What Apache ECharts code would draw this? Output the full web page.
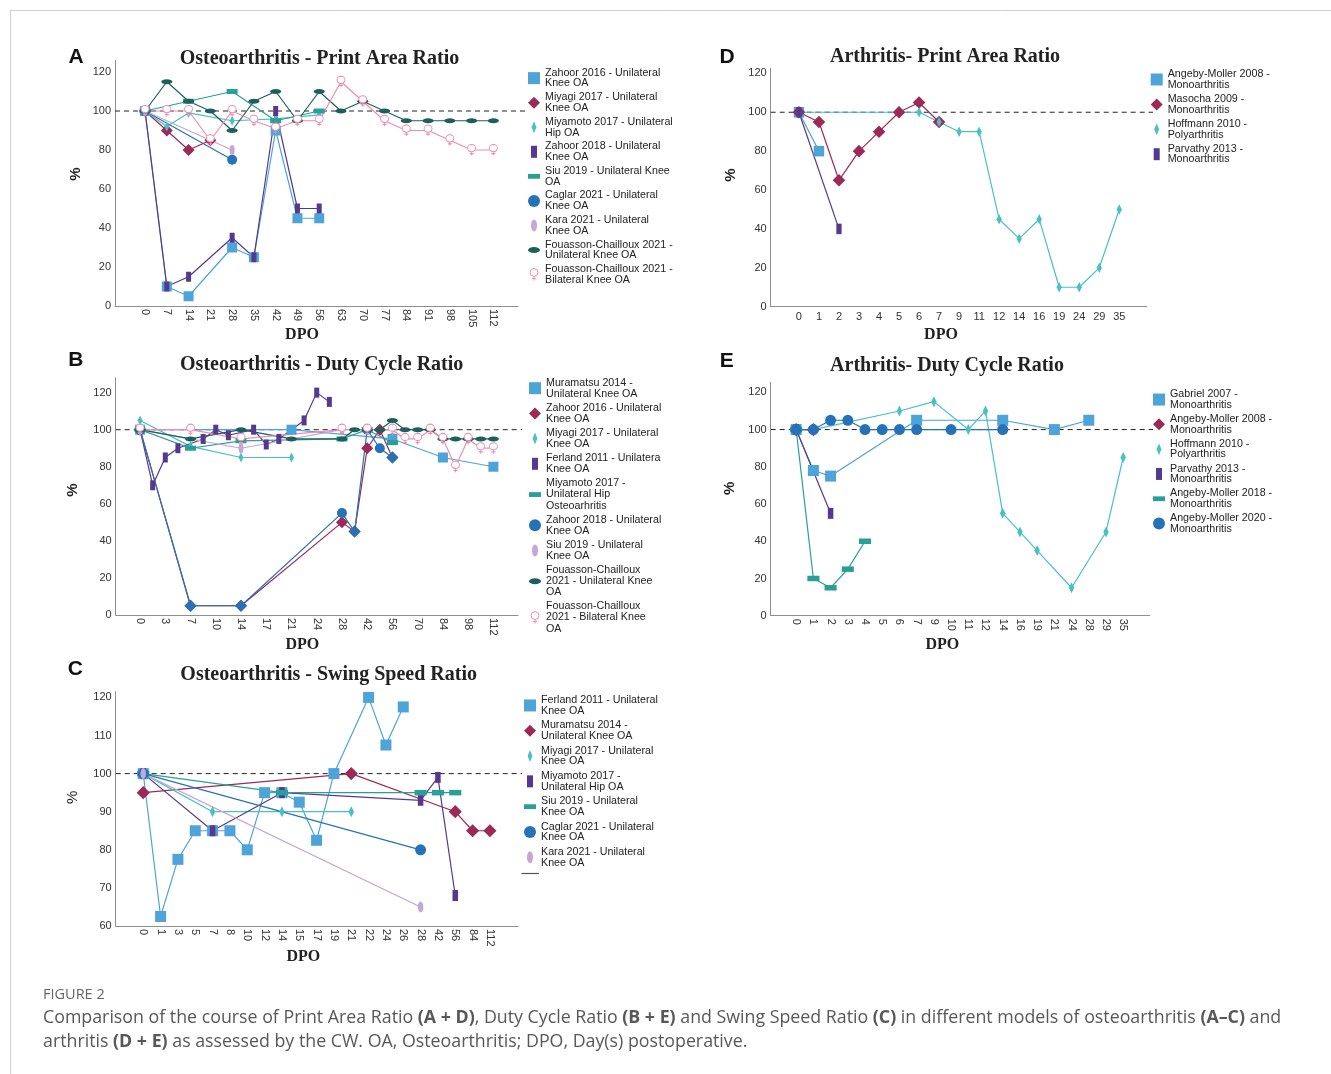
<!DOCTYPE html>
<html><head><meta charset="utf-8">
<script src="https://cdn.jsdelivr.net/npm/echarts@6/dist/echarts.min.js"></script>
<style>html,body{margin:0;padding:0;background:#fff}#c{width:1331px;height:1074px}</style>
</head><body><div id="c"></div>
<script>
// ---------------- DATA ----------------
// Panel A - Osteoarthritis, Print Area Ratio  ([DPO, %])
const A_days = [0,7,14,21,28,35,42,49,56,63,70,77,84,91,98,105,112];
const A_yTicks = [0,20,40,60,80,100,120];
const A_zahoor2016 = [[0,100],[7,10],[14,5],[28,30],[35,25],[42,90],[49,45],[56,45]];
const A_miyagi2017 = [[0,100],[7,90],[14,80],[21,85]];
const A_miyamoto2017 = [[0,100],[7,92],[14,99],[28,95],[42,96],[56,98]];
const A_zahoor2018 = [[0,100],[7,10],[14,15],[28,35],[35,25],[42,100],[49,50],[56,50]];
const A_siu2019 = [[0,100],[14,105],[28,110],[42,95],[56,100]];
const A_caglar2021 = [[0,100],[28,75]];
const A_kara2021 = [[0,100],[28,80]];
const A_fouassonUni = [[0,100],[7,115],[14,105],[21,100],[28,90],[35,105],[42,110],[49,95],[56,110],[63,100],[70,105],[77,100],[84,95],[91,95],[98,95],[105,95],[112,95]];
const A_fouassonBi = [[0,100],[7,100],[14,100],[21,85],[28,100],[35,95],[42,91],[49,95],[56,95],[63,115],[70,105],[77,95],[84,90],[91,90],[98,85],[105,80],[112,80]];

// Panel B - Osteoarthritis, Duty Cycle Ratio
const B_days = [0,1,3,5,7,8,10,12,14,15,17,19,21,22,24,26,28,35,42,49,56,63,70,77,84,91,98,105,112];
const B_yTicks = [0,20,40,60,80,100,120];
const B_muramatsu2014 = [[0,100],[21,100],[56,95],[84,85],[112,80]];
const B_zahoor2016 = [[0,100],[7,5],[14,5],[28,50],[35,45],[42,90],[49,100],[56,85]];
const B_miyagi2017 = [[0,105],[7,91],[14,85],[21,85]];
const B_ferland2011 = [[0,100],[1,70],[3,85],[5,90],[8,95],[10,100],[12,97],[15,100],[17,92],[19,95],[22,105],[24,120],[26,115]];
const B_miyamoto2017 = [[0,100],[7,90],[14,94],[28,95],[42,100],[56,93]];
const B_zahoor2018 = [[0,100],[7,5],[14,5],[28,55],[35,45],[42,100],[49,90],[56,85]];
const B_siu2019 = [[0,100],[14,90],[28,100]];
const B_fouassonUni = [[0,100],[7,95],[14,100],[21,95],[28,95],[35,100],[42,100],[49,100],[56,105],[63,100],[70,100],[77,100],[84,95],[91,95],[98,95],[105,95],[112,95]];
const B_fouassonBi = [[0,100],[7,100],[14,95],[28,100],[42,100],[56,100],[63,95],[70,95],[77,100],[84,95],[91,80],[98,95],[105,90],[112,90]];

// Panel C - Osteoarthritis, Swing Speed Ratio
const C_days = [0,1,3,5,7,8,10,12,14,15,17,19,21,22,24,26,28,42,56,84,112];
const C_yTicks = [60,70,80,90,100,110,120];
const C_ferland2011 = [[0,100],[1,62.5],[3,77.5],[5,85],[7,85],[8,85],[10,80],[12,95],[14,95],[15,92.5],[17,82.5],[19,100],[22,120],[24,107.5],[26,117.5]];
const C_muramatsu2014 = [[0,95],[21,100],[56,90],[84,85],[112,85]];
const C_miyagi2017 = [[0,100],[7,90],[14,90],[21,90]];
const C_miyamoto2017 = [[0,100],[7,85],[14,95],[28,93],[42,99],[56,68]];
const C_siu2019 = [[0,100],[14,95],[28,95],[42,95],[56,95]];
const C_caglar2021 = [[0,100],[28,80]];
const C_kara2021 = [[0,100],[28,65]];

// Panel D - Arthritis, Print Area Ratio
const D_days = [0,1,2,3,4,5,6,7,9,11,12,14,16,19,24,29,35];
const D_yTicks = [0,20,40,60,80,100,120];
const D_angeby2008 = [[0,100],[1,80]];
const D_masocha2009 = [[0,100],[1,95],[2,65],[3,80],[4,90],[5,100],[6,105],[7,95]];
const D_hoffmann2010 = [[0,100],[6,100],[7,95],[9,90],[11,90],[12,45],[14,35],[16,45],[19,10],[24,10],[29,20],[35,50]];
const D_parvathy2013 = [[0,100],[2,40]];

// Panel E - Arthritis, Duty Cycle Ratio
const E_days = [0,1,2,3,4,5,6,7,9,10,11,12,14,16,19,21,24,28,29,35];
const E_yTicks = [0,20,40,60,80,100,120];
const E_gabriel2007 = [[0,100],[1,78],[2,75],[7,105],[14,105],[21,100],[28,105]];
const E_angeby2008 = [[0,100],[1,100]];
const E_hoffmann2010 = [[0,100],[1,100],[6,110],[9,115],[11,100],[12,110],[14,55],[16,45],[19,35],[24,15],[29,45],[35,85]];
const E_parvathy2013 = [[0,100],[2,55]];
const E_angeby2018 = [[0,100],[1,20],[2,15],[3,25],[4,40]];
const E_angeby2020 = [[0,100],[1,100],[2,105],[3,105],[4,100],[5,100],[6,100],[7,100],[10,100],[14,100]];

// ---------------- STYLES ----------------
const SANS = '"Liberation Sans", Arial, sans-serif';
const SERIF = '"Liberation Serif", "Times New Roman", serif';
const FEMALE = 'path://M0.6,5A4.4,4.4 0 1,1 9.4,5A4.4,4.4 0 1,1 0.6,5ZM5,9.4L5,14M2.8,11.8L7.2,11.8';
const ELLV = 'path://M3,0A3,6 0 1,1 3,12A3,6 0 1,1 3,0Z';
const ELLH = 'path://M0,3A6,3 0 1,1 12,3A6,3 0 1,1 0,3Z';
const STY = {
  sq:   {color:'#4ea3d9', symbol:'rect', size:[10,10], icon:'path://M0,0H10V10H0Z'},
  dia:  {color:'#9d2a56', symbol:'diamond', size:[12,12], icon:'path://M7,0L14,7L7,14L0,7Z'},
  thin: {color:'#47c1c3', symbol:'diamond', size:[5,10], icon:'path://M2,0L4,5L2,10L0,5Z'},
  tall: {color:'#553890', symbol:'rect', size:[5,10], icon:'path://M0,0H5V10H0Z'},
  flat: {color:'#28a097', symbol:'rect', size:[11,5], icon:'path://M0,0H10V4H0Z'},
  circ: {color:'#2672b9', symbol:'circle', size:[10,10], icon:'circle'},
  ellv: {color:'#c5a6d7', symbol:'circle', size:[5,10], icon:ELLV},
  ellh: {color:'#1c5f5b', symbol:'circle', size:[11,5], icon:ELLH},
  fem:  {color:'#f08bb1', symbol:FEMALE, size:[8,11], icon:FEMALE, hollow:true}
};

const PANELS = [
 {letter:'A', title:'Osteoarthritis - Print Area Ratio', titlePos:[319.5,58.5], letterPos:[76,57.5], pctPos:[76,174], pctBold:true, dpoPos:[302,335],
  days:A_days, yTicks:A_yTicks, labelStep:1, rotate:-90, box:[115,60.3,403,245.7], xr:[-1.38,17.13], yr:[0,126], dashEnd:527, scale:1,
  legend:{left:528, top:67.3, lh:10.7, gap:2.85},
  series:[
   ['Zahoor 2016 - Unilateral\nKnee OA', A_zahoor2016, 'sq'],
   ['Miyagi 2017 - Unilateral\nKnee OA', A_miyagi2017, 'dia'],
   ['Miyamoto 2017 - Unilateral\nHip OA', A_miyamoto2017, 'thin'],
   ['Zahoor 2018 - Unilateral\nKnee OA', A_zahoor2018, 'tall'],
   ['Siu 2019 - Unilateral Knee\nOA', A_siu2019, 'flat'],
   ['Caglar 2021 - Unilateral\nKnee OA', A_caglar2021, 'circ'],
   ['Kara 2021 - Unilateral\nKnee OA', A_kara2021, 'ellv'],
   ['Fouasson-Chailloux 2021 -\nUnilateral Knee OA', A_fouassonUni, 'ellh'],
   ['Fouasson-Chailloux 2021 -\nBilateral Knee OA', A_fouassonBi, 'fem']
  ]},
 {letter:'B', title:'Osteoarthritis - Duty Cycle Ratio', titlePos:[321.7,365], letterPos:[75.8,360.5], pctPos:[72.7,490], pctBold:true, dpoPos:[302.3,645],
  days:B_days, yTicks:B_yTicks, labelStep:2, rotate:-90, box:[115.7,377.8,402.3,237.2], xr:[-1.93,29.95], yr:[0,128], dashEnd:522, scale:1,
  legend:{left:529, top:377.1, lh:11.1, gap:3},
  series:[
   ['Muramatsu 2014 -\nUnilateral Knee OA', B_muramatsu2014, 'sq'],
   ['Zahoor 2016 - Unilateral\nKnee OA', B_zahoor2016, 'dia'],
   ['Miyagi 2017 - Unilateral\nKnee OA', B_miyagi2017, 'thin'],
   ['Ferland 2011 - Unilatera\nKnee OA', B_ferland2011, 'tall'],
   ['Miyamoto 2017 -\nUnilateral Hip\nOsteoarhritis', B_miyamoto2017, 'flat'],
   ['Zahoor 2018 - Unilateral\nKnee OA', B_zahoor2018, 'circ', B_zahoor2016],
   ['Siu 2019 - Unilateral\nKnee OA', B_siu2019, 'ellv'],
   ['Fouasson-Chailloux\n2021 - Unilateral Knee\nOA', B_fouassonUni, 'ellh'],
   ['Fouasson-Chailloux\n2021 - Bilateral Knee\nOA', B_fouassonBi, 'fem']
  ]},
 {letter:'C', title:'Osteoarthritis - Swing Speed Ratio', titlePos:[328.7,674.5], letterPos:[75.3,669.3], pctPos:[72.7,797.3], pctBold:false, dpoPos:[303.3,956.7],
  days:C_days, yTicks:C_yTicks, labelStep:1, rotate:-90, box:[115.7,691.7,402.3,234.3], xr:[-1.59,21.62], yr:[60,121.5], dashEnd:522, scale:1.1,
  legend:{left:524, top:694.6, lh:10.7, gap:3.6},
  series:[
   ['Ferland 2011 - Unilateral\nKnee OA', C_ferland2011, 'sq'],
   ['Muramatsu 2014 -\nUnilateral Knee OA', C_muramatsu2014, 'dia'],
   ['Miyagi 2017 - Unilateral\nKnee OA', C_miyagi2017, 'thin'],
   ['Miyamoto 2017 -\nUnilateral Hip OA', C_miyamoto2017, 'tall'],
   ['Siu 2019 - Unilateral\nKnee OA', C_siu2019, 'flat'],
   ['Caglar 2021 - Unilateral\nKnee OA', C_caglar2021, 'circ'],
   ['Kara 2021 - Unilateral\nKnee OA', C_kara2021, 'ellv']
  ]},
 {letter:'D', title:'Arthritis- Print Area Ratio', titlePos:[945,56.7], letterPos:[727,57.5], pctPos:[730.7,175], pctBold:true, dpoPos:[941,335],
  days:D_days, yTicks:D_yTicks, labelStep:1, rotate:0, box:[770.7,68.3,376,238.4], xr:[-1.41,17.37], yr:[0,122.6], dashEnd:1153, scale:1.05,
  legend:{left:1150.7, top:68.7, lh:10.6, gap:3.3},
  series:[
   ['Angeby-Moller 2008 -\nMonoarthritis', D_angeby2008, 'sq'],
   ['Masocha 2009 -\nMonoarthritis', D_masocha2009, 'dia'],
   ['Hoffmann 2010 -\nPolyarthritis', D_hoffmann2010, 'thin'],
   ['Parvathy 2013 -\nMonoarthritis', D_parvathy2013, 'tall']
  ]},
 {letter:'E', title:'Arthritis- Duty Cycle Ratio', titlePos:[947,365.5], letterPos:[726.7,361.7], pctPos:[730,488.3], pctBold:true, dpoPos:[942.3,645],
  days:E_days, yTicks:E_yTicks, labelStep:1, rotate:-90, box:[770.7,382.3,379,233.4], xr:[-1.48,20.54], yr:[0,125.4], dashEnd:1153, scale:1.1,
  legend:{left:1153, top:388.8, lh:10.5, gap:3.3},
  series:[
   ['Gabriel 2007 -\nMonoarthritis', E_gabriel2007, 'sq'],
   ['Angeby-Moller 2008 -\nMonoarthritis', E_angeby2008, 'dia'],
   ['Hoffmann 2010 -\nPolyarthritis', E_hoffmann2010, 'thin'],
   ['Parvathy 2013 -\nMonoarthritis', E_parvathy2013, 'tall'],
   ['Angeby-Moller 2018 -\nMonoarthritis', E_angeby2018, 'flat'],
   ['Angeby-Moller 2020 -\nMonoarthritis', E_angeby2020, 'circ']
  ]}
];

// ---------------- BUILD ----------------
const chart = echarts.init(document.getElementById('c'), null, {renderer:'canvas', width:1331, height:1074});
const grid=[], xAxis=[], yAxis=[], series=[], legend=[];
const AXIS_COLOR = '#8e8e8e';

PANELS.forEach((p,i)=>{
  grid.push({left:p.box[0], top:p.box[1], width:p.box[2], height:p.box[3], containLabel:false, outerBoundsMode:'none'});
  const idx = p.days.map((d,k)=>k).filter(k=>k % p.labelStep === 0);
  xAxis.push({type:'value', gridIndex:i, min:p.xr[0], max:p.xr[1],
    axisLine:{show:true, onZero:false, lineStyle:{color:AXIS_COLOR, width:1}},
    axisTick:{show:false}, splitLine:{show:false},
    axisLabel:{customValues:idx, formatter:(v)=>String(p.days[Math.round(v)]), rotate:p.rotate,
      margin:p.rotate ? 3 : 5, fontSize:11, color:'#333', fontFamily:SANS}});
  yAxis.push({type:'value', gridIndex:i, min:p.yr[0], max:p.yr[1],
    axisLine:{show:true, onZero:false, lineStyle:{color:AXIS_COLOR, width:1}},
    axisTick:{show:false}, splitLine:{show:false},
    axisLabel:{customValues:p.yTicks, margin:4, fontSize:11, color:'#333', fontFamily:SANS}});
  const legendData = [];
  p.series.forEach(([name, data, sk, overlap])=>{
    const st = STY[sk];
    const sz = [st.size[0]*p.scale, st.size[1]*p.scale];
    const pts = data.map(([d,v])=>[p.days.indexOf(d), v]);
    let symbol = st.symbol, symbolSize = sz;
    if (overlap) {
      const ov = overlap.map(([d,v])=>[p.days.indexOf(d), v]);
      const hit = (val)=> val[0] !== 0 && ov.some(o=>o[0]===val[0] && o[1]===val[1]);
      const dz = STY.dia.size[0]*p.scale;
      symbol = (val)=> hit(val) ? 'diamond' : st.symbol;
      symbolSize = (val)=> hit(val) ? [dz,dz] : sz;
    }
    series.push({type:'line', name, xAxisIndex:i, yAxisIndex:i, data:pts,
      symbol, symbolSize, showAllSymbol:true,
      lineStyle:{color:st.color, width:1.2},
      itemStyle: st.hollow ? {color:'#fff', borderColor:st.color, borderWidth:1} : {color:st.color, borderWidth:0},
      emphasis:{disabled:true}, silent:true, animation:false});
    legendData.push({name, icon:st.icon,
      itemStyle: st.hollow ? {color:'#fff', borderColor:st.color, borderWidth:1, opacity:1} : {color:st.color, borderColor:st.color, borderWidth:0, opacity:1}});
  });
  legend.push({orient:'vertical', left:p.legend.left, top:p.legend.top, padding:0,
    itemWidth:12, itemHeight:12, itemGap:p.legend.gap, selectedMode:false,
    textStyle:{fontSize:10.7, lineHeight:p.legend.lh, color:'#222', fontFamily:SANS},
    data:legendData});
});

chart.setOption({animation:false, backgroundColor:'#fff', grid, xAxis, yAxis, series, legend});

// ---------------- GRAPHICS (texts, reference lines, frame) ----------------
const g = [];
g.push({type:'line', shape:{x1:10, y1:10.5, x2:1331, y2:10.5}, style:{stroke:'#cfcfcf', lineWidth:1}});
g.push({type:'line', shape:{x1:10.5, y1:10, x2:10.5, y2:1074}, style:{stroke:'#cfcfcf', lineWidth:1}});
PANELS.forEach((p,i)=>{
  const y100 = chart.convertToPixel({gridIndex:i}, [0,100])[1];
  g.push({type:'line', shape:{x1:p.box[0], y1:y100, x2:p.dashEnd, y2:y100},
    style:{stroke:'#222', lineWidth:1, lineDash:[5,4]}, z:1});
  g.push({type:'text', x:p.titlePos[0], y:p.titlePos[1], style:{text:p.title, font:'bold 20px '+SERIF, fill:'#222', align:'center', verticalAlign:'middle'}});
  g.push({type:'text', x:p.letterPos[0], y:p.letterPos[1], style:{text:p.letter, font:'bold 21px '+SANS, fill:'#111', align:'center', verticalAlign:'middle'}});
  g.push({type:'text', x:p.pctPos[0], y:p.pctPos[1], rotation:Math.PI/2, style:{text:'%', font:(p.pctBold?'bold ':'')+'15px '+SANS, fill:'#222', align:'center', verticalAlign:'middle'}});
  g.push({type:'text', x:p.dpoPos[0], y:p.dpoPos[1], style:{text:'DPO', font:'bold 16px '+SERIF, fill:'#222', align:'center', verticalAlign:'middle'}});
});
g.push({type:'line', shape:{x1:521.5, y1:873.5, x2:539, y2:873.5}, style:{stroke:'#555', lineWidth:1.2}});
const CAP = '17.8px "Open Sans", "Liberation Sans", sans-serif';
const CAPB = 'bold 17.8px "Open Sans", "Liberation Sans", sans-serif';
g.push({type:'text', x:43, y:995, style:{text:'FIGURE 2', font:'14.5px "Open Sans", "Liberation Sans", sans-serif', fill:'#666', verticalAlign:'middle'}});
g.push({type:'text', x:43, y:1018, style:{text:'Comparison of the course of Print Area Ratio {b|(A + D)}, Duty Cycle Ratio {b|(B + E)} and Swing Speed Ratio {b|(C)} in different models of osteoarthritis {b|(A–C)} and',
  font:CAP, fill:'#585858', verticalAlign:'middle', rich:{b:{font:CAPB, fill:'#585858'}}}});
g.push({type:'text', x:43, y:1042, style:{text:'arthritis {b|(D + E)} as assessed by the CW. OA, Osteoarthritis; DPO, Day(s) postoperative.',
  font:CAP, fill:'#585858', verticalAlign:'middle', rich:{b:{font:CAPB, fill:'#585858'}}}});
chart.setOption({graphic:{elements:g}});
</script>
</body></html>
